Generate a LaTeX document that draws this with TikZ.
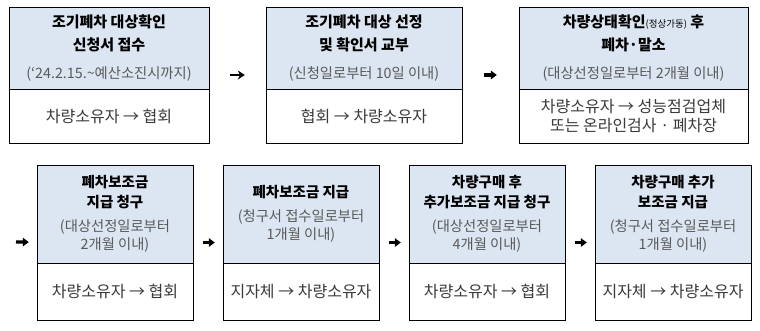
\documentclass[tikz,border=0pt]{standalone}
\usepackage{fontspec}
\setmainfont{Noto Sans CJK KR}
\usetikzlibrary{positioning,fit,shadows,arrows.meta}
\definecolor{headfill}{HTML}{DCE6F2}
\definecolor{subgray}{HTML}{595959}
\definecolor{bodygray}{HTML}{3A3A3A}
\newcommand{\steptitle}[1]{{\bfseries #1}}
\newcommand{\stepnote}[1]{{\color{subgray}\fontsize{14.3}{17}\selectfont #1}}
\begin{document}
\begin{tikzpicture}[x=1pt, y=-1pt,
  box/.style={rectangle, draw, line width=0.6pt, outer sep=0pt, inner sep=2pt, align=center,
    drop shadow={shadow xshift=1pt, shadow yshift=-1pt, opacity=1, fill=black}},
  head/.style={box, fill=headfill, font=\fontsize{15}{22}\selectfont},
  body/.style={box, fill=white, text=bodygray, font=\fontsize{16}{20}\selectfont},
  thinflow/.style={-{Stealth[length=7pt,width=9pt]}, line width=1.6pt},
  flow/.style={-{Triangle[length=6pt,width=8.5pt]}, line width=3.2pt}]

\useasboundingbox (0,0) rectangle (760,330);

\node (head1) [head, anchor=north west, minimum width=200pt, minimum height=82pt] at (9,7)
  {\steptitle{조기폐차 대상확인}\\[1pt]\steptitle{신청서 접수}\\[6pt]\stepnote{(‘24.2.15.\textasciitilde 예산소진시까지)}};
\node (body1) [body, below=0pt of head1, minimum width=200pt, minimum height=54pt] {차량소유자 → 협회};
\node (head2) [head, right=57pt of head1, minimum width=196pt, minimum height=82pt]
  {\steptitle{조기폐차 대상 선정}\\[1pt]\steptitle{및 확인서 교부}\\[6pt]\stepnote{(신청일로부터 10일 이내)}};
\node (body2) [body, below=0pt of head2, minimum width=196pt, minimum height=54pt] {협회 → 차량소유자};
\node (head3) [head, right=57pt of head2, minimum width=229pt, minimum height=82pt]
  {\steptitle{차량상태확인}{\fontsize{9.5}{9.5}\selectfont(정상가동)} \steptitle{후}\\[1pt]\steptitle{폐차·말소}\\[6pt]\stepnote{(대상선정일로부터 2개월 이내)}};
\node (body3) [body, below=0pt of head3, minimum width=229pt, minimum height=54pt, font=\fontsize{16}{19}\selectfont]
  {차량소유자 → 성능점검업체\\또는 온라인검사 · 폐차장};

\node (head4) [head, anchor=north west, minimum width=156pt, minimum height=98pt, font=\fontsize{14.5}{20}\selectfont] at (37,165)
  {\steptitle{폐차보조금}\\\steptitle{지급 청구}\\[4pt]\stepnote{(대상선정일로부터}\\[-2pt]\stepnote{2개월 이내)}};
\node (body4) [body, below=0pt of head4, minimum width=156pt, minimum height=57pt] {차량소유자 → 협회};
\node (head5) [head, right=30pt of head4, minimum width=156pt, minimum height=98pt, font=\fontsize{14.5}{20}\selectfont]
  {\steptitle{폐차보조금 지급}\\[4pt]\stepnote{(청구서 접수일로부터}\\[-2pt]\stepnote{1개월 이내)}};
\node (body5) [body, below=0pt of head5, minimum width=156pt, minimum height=57pt] {지자체 → 차량소유자};
\node (head6) [head, right=30pt of head5, minimum width=156pt, minimum height=98pt, font=\fontsize{14.5}{20}\selectfont]
  {\steptitle{차량구매 후}\\\steptitle{추가보조금 지급 청구}\\[4pt]\stepnote{(대상선정일로부터}\\[-2pt]\stepnote{4개월 이내)}};
\node (body6) [body, below=0pt of head6, minimum width=156pt, minimum height=57pt] {차량소유자 → 협회};
\node (head7) [head, right=30pt of head6, minimum width=156pt, minimum height=98pt, font=\fontsize{14.5}{20}\selectfont]
  {\steptitle{차량구매 추가}\\\steptitle{보조금 지급}\\[4pt]\stepnote{(청구서 접수일로부터}\\[-2pt]\stepnote{1개월 이내)}};
\node (body7) [body, below=0pt of head7, minimum width=156pt, minimum height=57pt] {지자체 → 차량소유자};

\node (step1) [fit=(head1)(body1), inner sep=0pt] {};
\node (step2) [fit=(head2)(body2), inner sep=0pt] {};
\node (step3) [fit=(head3)(body3), inner sep=0pt] {};
\node (step4) [fit=(head4)(body4), inner sep=0pt] {};
\node (step5) [fit=(head5)(body5), inner sep=0pt] {};
\node (step6) [fit=(head6)(body6), inner sep=0pt] {};
\node (step7) [fit=(head7)(body7), inner sep=0pt] {};
\coordinate (wrap) at (9,242);

\draw[thinflow, shorten <=21pt, shorten >=21pt] (step1) -- (step2);
\draw[flow, shorten <=22pt, shorten >=22pt] (step2) -- (step3);
\draw[flow, shorten <=7pt, shorten >=8pt] (wrap) -- (step4);
\draw[flow, shorten <=10pt, shorten >=8pt] (step4) -- (step5);
\draw[flow, shorten <=10pt, shorten >=8pt] (step5) -- (step6);
\draw[flow, shorten <=10pt, shorten >=8pt] (step6) -- (step7);

\end{tikzpicture}
\end{document}
